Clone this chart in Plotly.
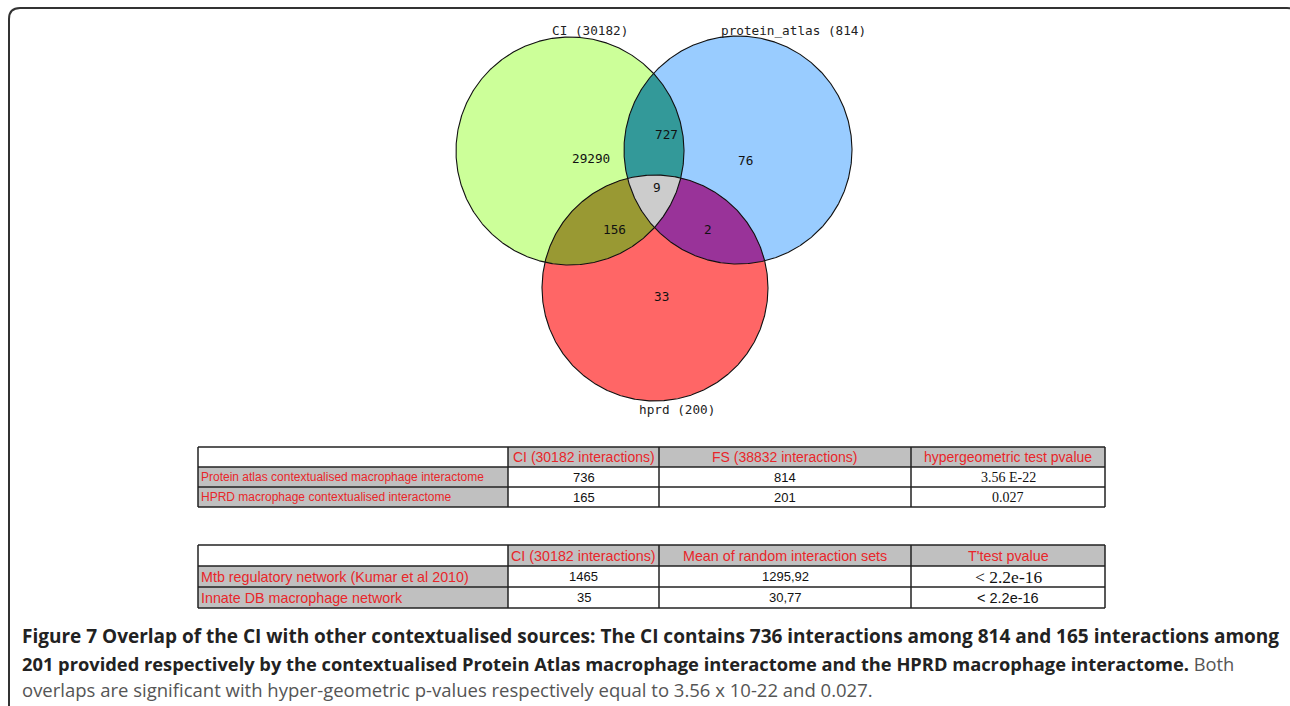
import numpy as np
import plotly.graph_objects as go

# ---------------- data ----------------
set_names = ["CI", "protein_atlas", "hprd"]
set_sizes = [30182, 814, 200]
region_keys = ["CI", "PA", "HP", "CI&PA", "CI&HP", "PA&HP", "ALL"]
region_counts = [29290, 76, 33, 727, 156, 2, 9]

t1_header = ["", "CI (30182 interactions)", "FS (38832 interactions)", "hypergeometric test pvalue"]
t1_rows = ["Protein atlas contextualised macrophage interactome", "HPRD macrophage contextualised interactome"]
t1_ci = ["736", "165"]
t1_fs = ["814", "201"]
t1_p = ["3.56 E-22", "0.027"]

t2_header = ["", "CI (30182 interactions)", "Mean of random interaction sets", "T'test pvalue"]
t2_rows = ["Mtb regulatory network (Kumar et al 2010)", "Innate DB macrophage network"]
t2_ci = ["1465", "35"]
t2_mean = ["1295,92", "30,77"]
t2_p = ["< 2.2e-16", "< 2.2e-16"]

caption_bold1 = "Figure 7 Overlap of the CI with other contextualised sources: The CI contains 736 interactions among 814 and 165 interactions among"
caption_bold2 = "201 provided respectively by the contextualised Protein Atlas macrophage interactome and the HPRD macrophage interactome."
caption_norm2 = " Both"
caption_norm3 = "overlaps are significant with hyper-geometric p-values respectively equal to 3.56 x 10-22 and 0.027."

# ---------------- layout constants ----------------
circles = [(570.0, 151.0, 114.0), (738.0, 150.0, 114.0), (655.0, 288.0, 113.0)]
set_colors = ["#CCFF99", "#99CCFF", "#FF6666"]
pair_colors = {(0, 1): "#339999", (0, 2): "#999933", (1, 2): "#993399"}
triple_color = "#CCCCCC"
set_label_pos = [(590, 30), (793, 30), (677, 409)]
region_label_pos = [(591, 158), (745, 160), (661, 296), (666, 134), (614, 229), (708, 229), (657, 187)]

fig = go.Figure()


def region_polygon(idx, n=1440):
    pts = []
    for i in idx:
        cx, cy, r = circles[i]
        t = np.linspace(0, 2 * np.pi, n, endpoint=False)
        px = cx + r * np.cos(t)
        py = cy + r * np.sin(t)
        mask = np.ones(n, dtype=bool)
        for j in idx:
            if j == i:
                continue
            qx, qy, qr = circles[j]
            mask &= (px - qx) ** 2 + (py - qy) ** 2 <= qr ** 2 + 1e-6
        pts.append(np.column_stack([px[mask], py[mask]]))
    pts = np.vstack(pts)
    c = pts.mean(axis=0)
    order = np.argsort(np.arctan2(pts[:, 1] - c[1], pts[:, 0] - c[0]))
    pts = pts[order]
    pts = np.vstack([pts, pts[:1]])
    return pts[:, 0], pts[:, 1]


def add_fill(idx, color):
    x, y = region_polygon(idx)
    fig.add_trace(go.Scatter(x=x, y=y, mode="lines", fill="toself", fillcolor=color,
                             line=dict(width=0, color=color), hoverinfo="skip", showlegend=False))


for i in range(3):
    add_fill([i], set_colors[i])
for (a, b), col in pair_colors.items():
    add_fill([a, b], col)
add_fill([0, 1, 2], triple_color)

for (cx, cy, r) in circles:
    t = np.linspace(0, 2 * np.pi, 721)
    fig.add_trace(go.Scatter(x=cx + r * np.cos(t), y=cy + r * np.sin(t), mode="lines",
                             line=dict(color="#111111", width=1.1), hoverinfo="skip", showlegend=False))

annotations = []
mono = "DejaVu Sans Mono"
for name, size, (x, y) in zip(set_names, set_sizes, set_label_pos):
    annotations.append(dict(x=x, y=y, text=f"{name} ({size})", showarrow=False,
                            font=dict(family=mono, size=12.7, color="#222222"), xanchor="center", yanchor="middle"))
for cnt, (x, y) in zip(region_counts, region_label_pos):
    annotations.append(dict(x=x, y=y, text=str(cnt), showarrow=False,
                            font=dict(family=mono, size=12.7, color="#111111"), xanchor="center", yanchor="middle"))

shapes = []
gray = "#C0C0C0"
red = "#E8262A"
edges = [198, 508, 659, 911, 1105]


def draw_table(y_edges, header, rows, cols, col_fonts, header_size, row_size):
    shapes.append(dict(type="rect", x0=edges[1], x1=edges[4], y0=y_edges[0], y1=y_edges[1],
                       fillcolor=gray, line=dict(width=0), layer="below"))
    shapes.append(dict(type="rect", x0=edges[0], x1=edges[1], y0=y_edges[1], y1=y_edges[3],
                       fillcolor=gray, line=dict(width=0), layer="below"))
    for yy in y_edges:
        shapes.append(dict(type="line", x0=edges[0], x1=edges[-1], y0=yy, y1=yy,
                           line=dict(color="#222222", width=1.5)))
    for xx in edges:
        shapes.append(dict(type="line", x0=xx, x1=xx, y0=y_edges[0], y1=y_edges[-1],
                           line=dict(color="#222222", width=1.5)))
    for c in range(1, 4):
        annotations.append(dict(x=(edges[c] + edges[c + 1]) / 2, y=(y_edges[0] + y_edges[1]) / 2,
                                text=header[c], showarrow=False,
                                font=dict(family="Liberation Sans", size=header_size, color=red),
                                xanchor="center", yanchor="middle"))
    for r in range(2):
        yc = (y_edges[r + 1] + y_edges[r + 2]) / 2
        annotations.append(dict(x=edges[0] + 1, y=yc, text=rows[r], showarrow=False,
                                font=dict(family="Liberation Sans", size=row_size, color=red),
                                xanchor="left", yanchor="middle"))
        for c in range(3):
            fam, sz = col_fonts[c][r]
            annotations.append(dict(x=(edges[c + 1] + edges[c + 2]) / 2, y=yc, text=cols[c][r], showarrow=False,
                                    font=dict(family=fam, size=sz, color="#111111"),
                                    xanchor="center", yanchor="middle"))


sans = "Liberation Sans"
serif = "Liberation Serif"
draw_table([447, 467, 487, 507], t1_header, t1_rows, [t1_ci, t1_fs, t1_p],
           [[(sans, 13), (sans, 13)], [(sans, 13), (sans, 13)], [(serif, 14), (serif, 14)]], 14, 12)
draw_table([545, 566, 587, 608], t2_header, t2_rows, [t2_ci, t2_mean, t2_p],
           [[(sans, 13), (sans, 13)], [(sans, 13), (sans, 13)], [(serif, 17.5), (sans, 14.5)]], 14.3, 14.3)

# caption
cap_font = "Open Sans"
annotations.append(dict(x=20, y=636, text=f"<b>{caption_bold1}</b>", showarrow=False,
                        font=dict(family=cap_font, size=19, color="#222222"), xanchor="left", yanchor="middle"))
annotations.append(dict(x=20, y=663, text=f"<b>{caption_bold2}</b><span style='color:#555555'>{caption_norm2}</span>",
                        showarrow=False, font=dict(family=cap_font, size=18.3, color="#222222"),
                        xanchor="left", yanchor="middle"))
annotations.append(dict(x=20, y=689, text=caption_norm3, showarrow=False,
                        font=dict(family=cap_font, size=18.5, color="#555555"), xanchor="left", yanchor="middle"))

# rounded border
x0b, y0b, x1b, y1b, rr = 9, 8, 1298, 716, 11
border = (f"M {x0b+rr},{y0b} L {x1b-rr},{y0b} Q {x1b},{y0b} {x1b},{y0b+rr} L {x1b},{y1b-rr} "
          f"Q {x1b},{y1b} {x1b-rr},{y1b} L {x0b+rr},{y1b} Q {x0b},{y1b} {x0b},{y1b-rr} "
          f"L {x0b},{y0b+rr} Q {x0b},{y0b} {x0b+rr},{y0b} Z")
shapes.append(dict(type="path", path=border, line=dict(color="#333333", width=2)))

fig.update_layout(
    width=1290, height=706, margin=dict(l=0, r=0, t=0, b=0),
    paper_bgcolor="white", plot_bgcolor="white",
    xaxis=dict(range=[0, 1290], visible=False, fixedrange=True),
    yaxis=dict(range=[706, 0], visible=False, fixedrange=True),
    shapes=shapes, annotations=annotations, showlegend=False,
)
fig.write_html("out.html", config={"displayModeBar": False},
               post_script="document.body.style.margin='0px';document.body.style.overflow='hidden';")
